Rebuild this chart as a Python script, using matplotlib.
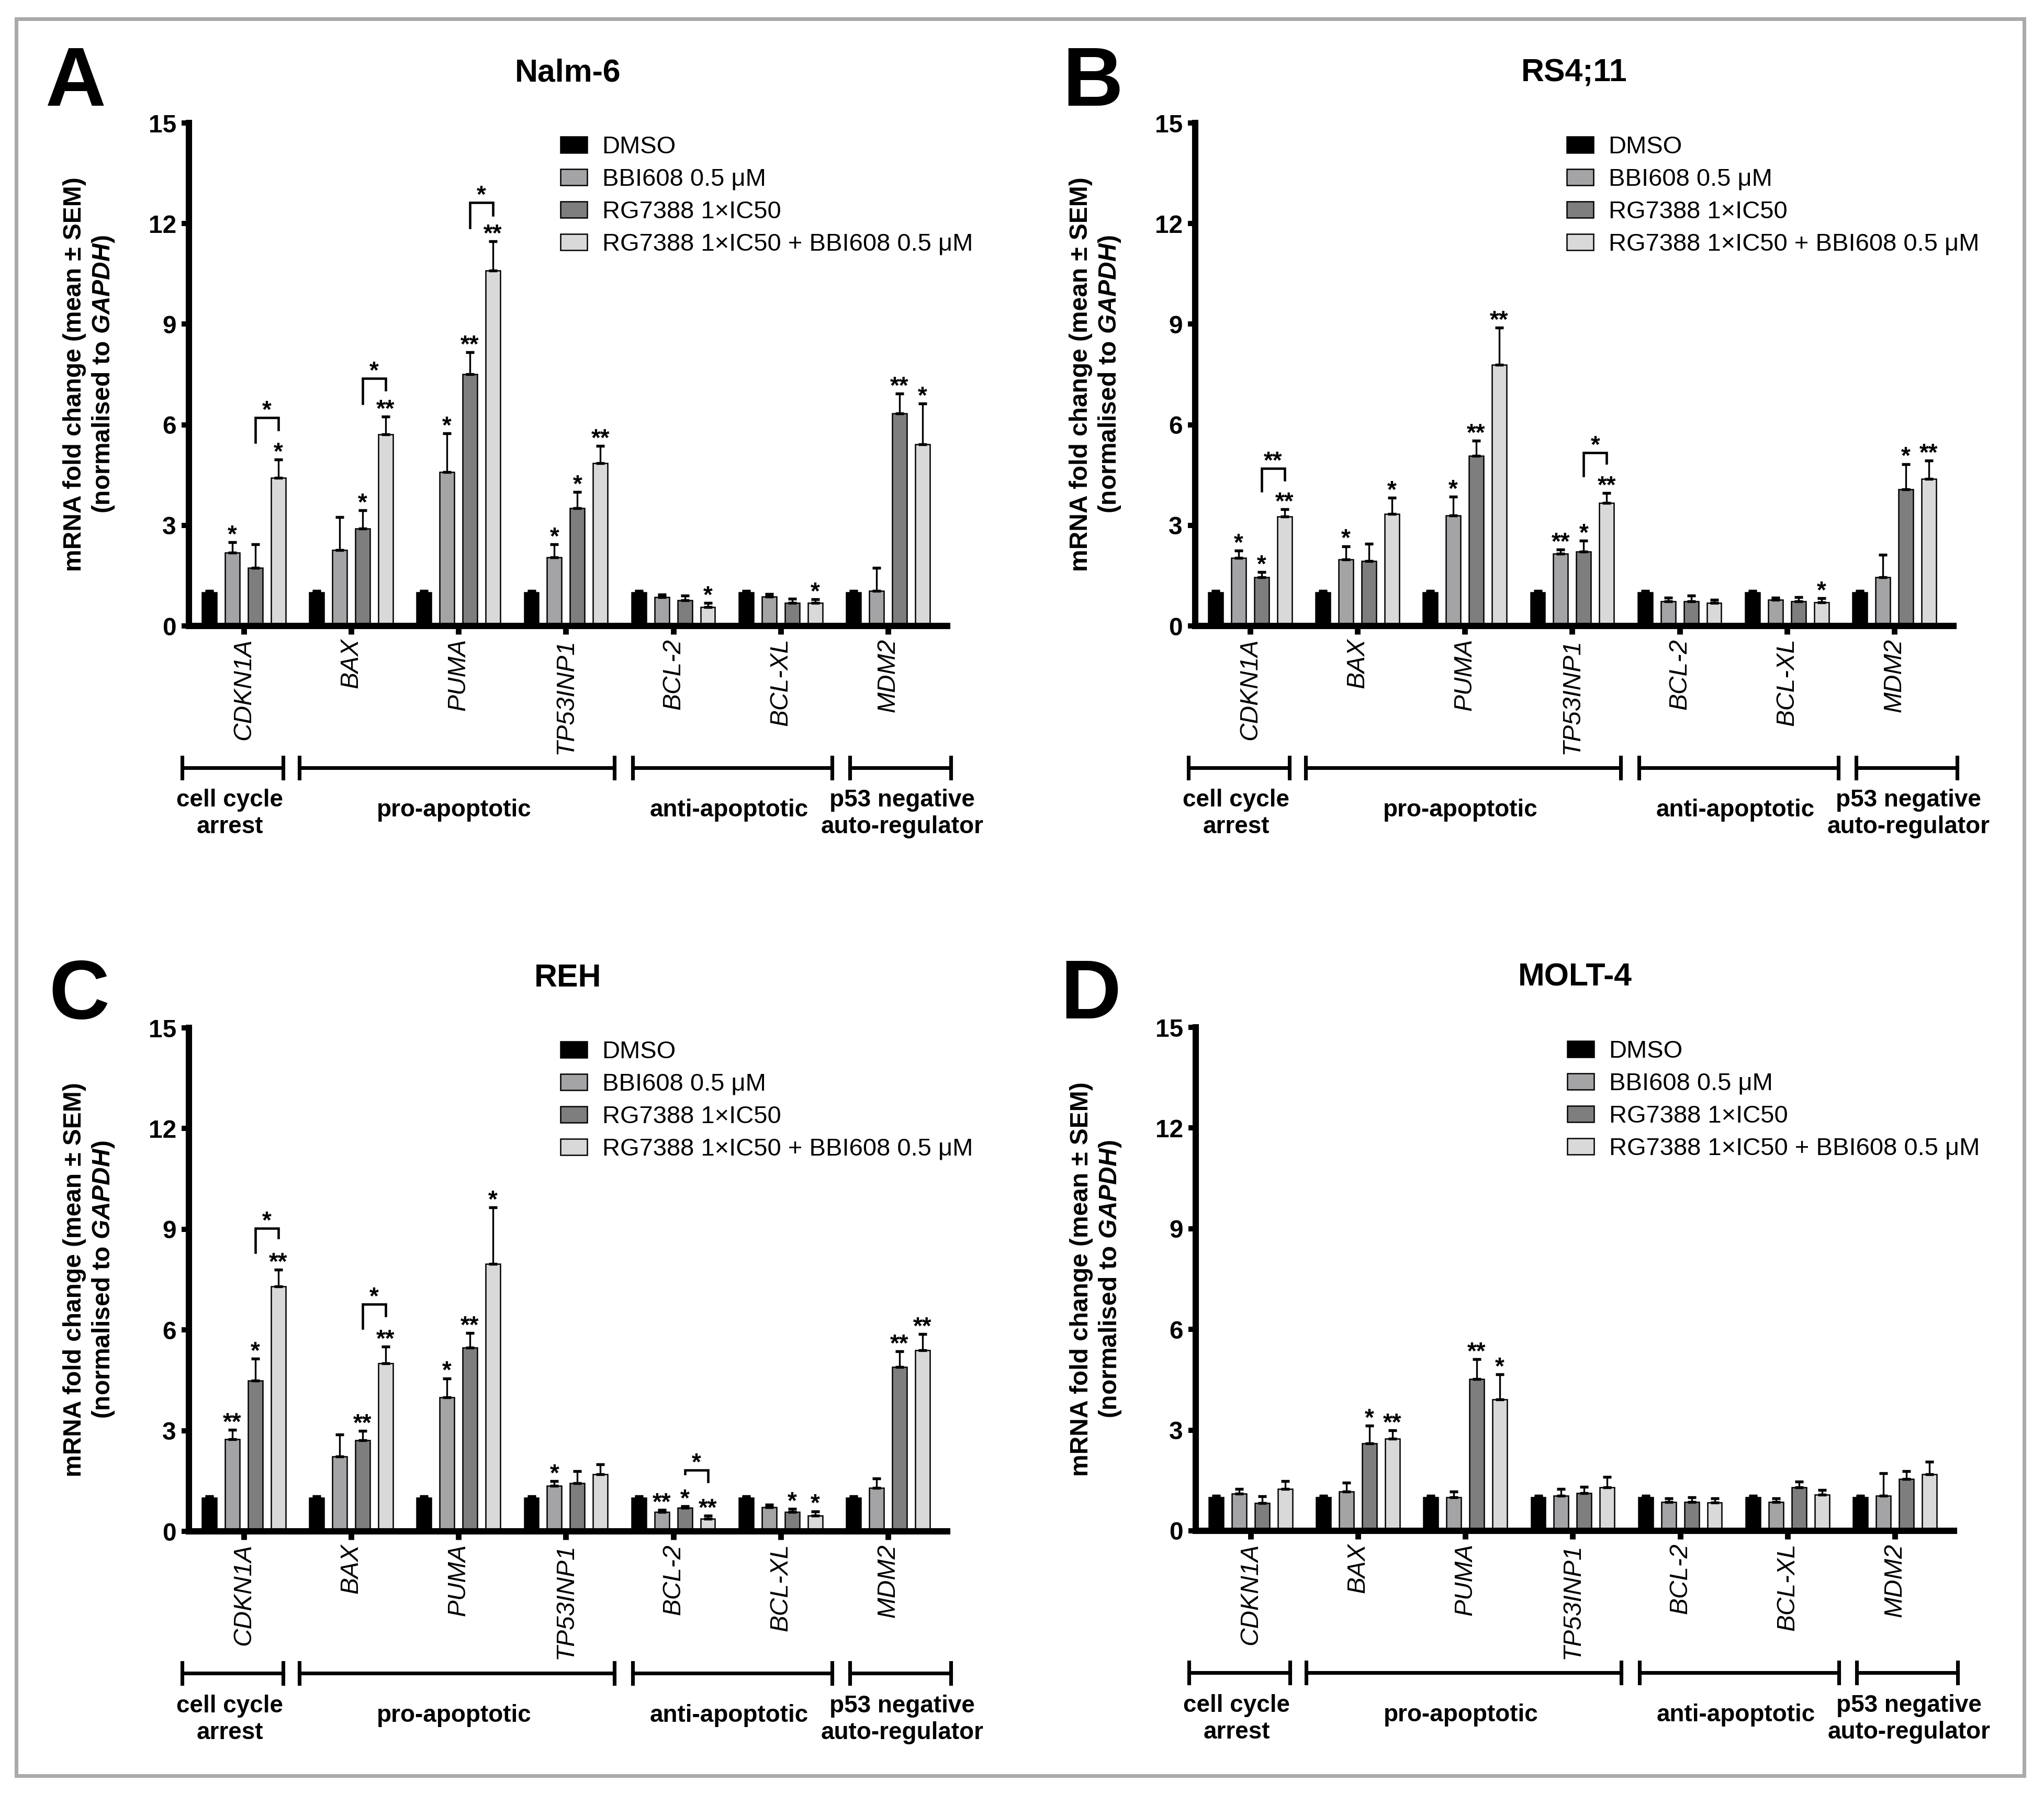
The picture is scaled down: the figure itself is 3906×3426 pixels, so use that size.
import numpy as np
import matplotlib
matplotlib.use('Agg')
import matplotlib.pyplot as plt
from matplotlib.patches import Rectangle

plt.rcParams['font.family'] = ['Liberation Sans', 'DejaVu Sans']
plt.rcParams['mathtext.fontset'] = 'custom'
plt.rcParams['mathtext.it'] = 'Liberation Sans:italic:bold'
plt.rcParams['mathtext.rm'] = 'Liberation Sans:bold'
plt.rcParams['mathtext.bf'] = 'Liberation Sans:bold'

# ---- data ----
genes = ['CDKN1A', 'BAX', 'PUMA', 'TP53INP1', 'BCL-2', 'BCL-XL', 'MDM2']
series = ['DMSO', 'BBI608 0.5 \u03bcM', 'RG7388 1\u00d7IC50',
          'RG7388 1\u00d7IC50 + BBI608 0.5 \u03bcM']
groups = ['cell cycle\narrest', 'pro-apoptotic', 'anti-apoptotic',
          'p53 negative\nauto-regulator']

dmso_mean = [1.0, 1.0, 1.0, 1.0, 1.0, 1.0, 1.0]
dmso_err = [0.05, 0.05, 0.05, 0.05, 0.05, 0.05, 0.05]

# Nalm-6
nalm_bbi = [2.19, 2.26, 4.59, 2.04, 0.86, 0.88, 1.05]
nalm_bbi_err = [0.31, 0.99, 1.15, 0.39, 0.07, 0.07, 0.69]
nalm_rg = [1.74, 2.90, 7.51, 3.51, 0.76, 0.68, 6.33]
nalm_rg_err = [0.69, 0.55, 0.65, 0.49, 0.14, 0.13, 0.60]
nalm_combo = [4.42, 5.71, 10.60, 4.86, 0.56, 0.68, 5.41]
nalm_combo_err = [0.54, 0.53, 0.87, 0.51, 0.12, 0.11, 1.23]
nalm_sig = [['*', '', '*', '*', '', '', ''],
            ['', '*', '**', '*', '', '', '**'],
            ['*', '**', '**', '**', '*', '*', '*']]
nalm_brackets = [(0, '*', 6.21, 5.48, 5.85), (1, '*', 7.38, 6.63, 7.04),
                 (2, '*', 12.63, 11.88, 12.25)]

# RS4;11
rs_bbi = [2.03, 1.98, 3.29, 2.16, 0.74, 0.78, 1.45]
rs_bbi_err = [0.22, 0.40, 0.56, 0.12, 0.10, 0.07, 0.68]
rs_rg = [1.45, 1.94, 5.07, 2.21, 0.74, 0.74, 4.07]
rs_rg_err = [0.15, 0.51, 0.45, 0.34, 0.16, 0.12, 0.76]
rs_combo = [3.26, 3.34, 7.79, 3.67, 0.68, 0.71, 4.39]
rs_combo_err = [0.22, 0.49, 1.10, 0.30, 0.10, 0.12, 0.54]
rs_sig = [['*', '*', '*', '**', '', '', ''],
          ['*', '', '**', '*', '', '', '*'],
          ['**', '*', '**', '**', '', '*', '**']]
rs_brackets = [(0, '**', 4.70, 4.02, 4.36), (3, '*', 5.17, 4.48, 4.86)]

# REH
reh_bbi = [2.74, 2.23, 3.99, 1.35, 0.58, 0.72, 1.29]
reh_bbi_err = [0.29, 0.65, 0.57, 0.14, 0.06, 0.07, 0.29]
reh_rg = [4.49, 2.71, 5.47, 1.44, 0.70, 0.57, 4.89]
reh_rg_err = [0.65, 0.29, 0.44, 0.36, 0.05, 0.10, 0.48]
reh_combo = [7.29, 5.00, 7.97, 1.70, 0.38, 0.46, 5.40]
reh_combo_err = [0.51, 0.50, 1.68, 0.30, 0.08, 0.14, 0.48]
reh_sig = [['**', '', '*', '*', '**', '', ''],
           ['*', '**', '**', '', '*', '*', '**'],
           ['**', '**', '*', '', '**', '*', '**']]
reh_brackets = [(0, '*', 9.03, 8.31, 8.74), (1, '*', 6.77, 6.05, 6.43),
                (4, '*', 1.82, 1.71, 1.48)]

# MOLT-4
molt_bbi = [1.10, 1.17, 1.00, 1.05, 0.86, 0.86, 1.05]
molt_bbi_err = [0.14, 0.26, 0.17, 0.20, 0.10, 0.10, 0.67]
molt_rg = [0.82, 2.60, 4.52, 1.12, 0.86, 1.29, 1.55]
molt_rg_err = [0.21, 0.54, 0.60, 0.19, 0.14, 0.17, 0.22]
molt_combo = [1.25, 2.75, 3.92, 1.29, 0.84, 1.08, 1.68]
molt_combo_err = [0.23, 0.25, 0.74, 0.31, 0.12, 0.14, 0.38]
molt_sig = [['', '', '', '', '', '', ''],
            ['', '*', '**', '', '', '', ''],
            ['', '**', '*', '', '', '', '']]
molt_brackets = []

panels = [
    ('A', 'Nalm-6', [nalm_bbi, nalm_rg, nalm_combo],
     [nalm_bbi_err, nalm_rg_err, nalm_combo_err], nalm_sig, nalm_brackets),
    ('B', 'RS4;11', [rs_bbi, rs_rg, rs_combo],
     [rs_bbi_err, rs_rg_err, rs_combo_err], rs_sig, rs_brackets),
    ('C', 'REH', [reh_bbi, reh_rg, reh_combo],
     [reh_bbi_err, reh_rg_err, reh_combo_err], reh_sig, reh_brackets),
    ('D', 'MOLT-4', [molt_bbi, molt_rg, molt_combo],
     [molt_bbi_err, molt_rg_err, molt_combo_err], molt_sig, molt_brackets),
]

# ---- layout (pixels of the 3906x3426 canvas) ----
W, H = 3906, 3426
colors = ['#000000', '#a4a4a7', '#7e7e7e', '#d9d9d9']
# left, top(y=15), bottom(y=0) of each axes; letter x / baseline
axes_px = [(361, 235, 1196), (2284, 235, 1196), (361, 1964, 2926), (2285, 1963, 2925)]
letter_px = [(87, 202), (2030, 202), (93, 1946), (2026, 1946)]
ax_w = 1449

group_spans = [(-0.575, 0.365), (0.516, 3.45), (3.62, 5.48), (5.645, 6.585)]
group_lab_x = [-0.13, 1.96, 4.52, 6.13]
group_lab_y = [-5.6, -5.49, -5.49, -5.6]

fig = plt.figure(figsize=(W / 300, H / 300), dpi=300)

x = np.arange(len(genes))
width = 0.136
step = 0.214

for k, (letter, title, means, errs, sig, brackets) in enumerate(panels):
    left, top, bot = axes_px[k]
    ax = fig.add_axes([left / W, 1 - bot / H, ax_w / W, (bot - top) / H])

    all_means = [dmso_mean] + means
    all_errs = [dmso_err] + errs
    bars = []
    for i in range(4):
        xi = x + (i - 1.5) * step
        b = ax.bar(xi, all_means[i], width, color=colors[i], edgecolor='black',
                   linewidth=0.6, zorder=2, label=series[i])
        bars.append(b)
        ax.errorbar(xi, all_means[i], yerr=[np.zeros(len(genes)), all_errs[i]],
                    fmt='none', ecolor='black', elinewidth=0.8, capsize=1.9,
                    capthick=1.3, zorder=3)
        if i > 0:
            for j, s in enumerate(sig[i - 1]):
                if s:
                    ax.text(xi[j], all_means[i][j] + all_errs[i][j] - 0.15, s,
                            ha='center', va='bottom', fontsize=11, fontweight='bold')

    # comparison brackets between RG7388 and combination
    for g, s, ytop, yl, yr in brackets:
        xl = g + 0.5 * step
        xr = g + 1.5 * step
        ax.plot([xl, xl, xr, xr], [yl, ytop, ytop, yr], color='black', lw=1.1,
                zorder=3, solid_joinstyle='miter')
        ax.text((xl + xr) / 2, ytop - 0.15, s, ha='center', va='bottom',
                fontsize=11, fontweight='bold')

    # functional group brackets under the axis
    yb = -4.23
    for (x0, x1), lab, lx, ly in zip(group_spans, groups, group_lab_x, group_lab_y):
        ax.plot([x0, x1], [yb, yb], color='black', lw=1.7, clip_on=False)
        ax.plot([x0, x0], [yb - 0.31, yb + 0.31], color='black', lw=1.7, clip_on=False)
        ax.plot([x1, x1], [yb - 0.31, yb + 0.31], color='black', lw=1.7, clip_on=False)
        ax.text(lx, ly, lab, ha='center', va='center', fontsize=11,
                fontweight='bold', linespacing=1.2, clip_on=False)

    ax.set_xlim(-0.51, 6.55)
    ax.set_ylim(0, 15)
    ax.set_yticks([0, 3, 6, 9, 12, 15])
    ax.set_xticks(x)
    ax.set_xticklabels(genes, rotation=90, fontstyle='italic', fontsize=11.5)
    for t in ax.get_yticklabels():
        t.set_fontweight('bold')
        t.set_fontsize(11.5)
    ax.tick_params(axis='y', length=3.4, width=2.4, pad=2.4)
    ax.tick_params(axis='x', length=3.8, width=2.6, pad=1.9)
    for side in ['top', 'right']:
        ax.spines[side].set_visible(False)
    for side in ['left', 'bottom']:
        ax.spines[side].set_linewidth(2.9)

    ax.set_title(title, fontsize=14.6, fontweight='bold', pad=19)
    ax.text(-0.131, 0.5,
            'mRNA fold change (mean \u00b1 SEM)\n(normalised to $\\mathit{GAPDH}$)',
            transform=ax.transAxes, rotation=90, ha='center', va='center',
            fontsize=11.5, fontweight='bold', multialignment='center')

    ax.legend(bars, series, loc='upper left', bbox_to_anchor=(0.49, 0.975),
              frameon=False, fontsize=11.3, handlelength=1.09, handleheight=0.63,
              handletextpad=0.6, labelspacing=0.38, borderpad=0, borderaxespad=0)

    lx, lb = letter_px[k]
    fig.text(lx / W, 1 - lb / H, letter, fontsize=38.5, fontweight='bold',
             ha='left', va='baseline')

# grey frame around the whole figure
fig.patches.append(Rectangle((30.5 / W, 1 - 3393 / H), (3868 - 30.5) / W,
                             (3393 - 36) / H, transform=fig.transFigure,
                             fill=False, edgecolor='#aaaaaa', lw=1.7))

fig.savefig('out.png', dpi=300)
